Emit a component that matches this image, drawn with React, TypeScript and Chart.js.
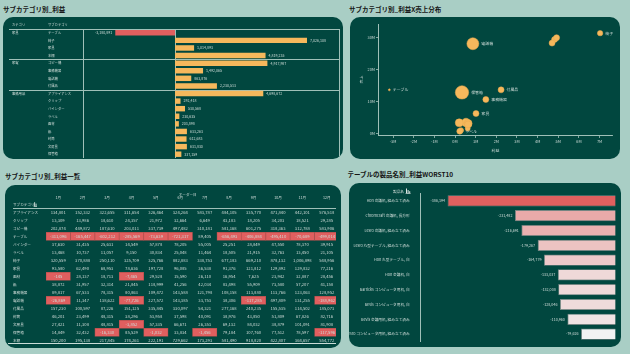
import React, { useEffect, useRef } from 'react';
import { Chart, registerables } from 'chart.js';
Chart.register(...registerables);

const FONT = '"Noto Sans CJK JP", "Noto Sans", sans-serif';
const BG = '#a9cec5';
const PANEL = '#01473f';
const ORANGE = '#f6b85c';
const RED = '#e05f5f';
const TXT = '#cfdcd8';
const LINE = '#9fc0b8';

// ---------- Panel 1 / 2 : subcategory profit & sales ----------
const subcategories = ['テーブル', '椅子', '家具', '本棚', 'コピー機', '事務機器', '電話機', '付属品', 'アプライアンス', 'クリップ', 'バインダー', 'ラベル', '画材', '紙', '封筒', '文房具', '保管箱'];
const subcategoryCategory = ['家具', '家具', '家具', '家具', '家電', '家電', '家電', '家電', '事務用品', '事務用品', '事務用品', '事務用品', '事務用品', '事務用品', '事務用品', '事務用品', '事務用品'];
const profitBySub = [-3180891, 7026108, 1014893, 4819235, 4917987, 1492065, 863876, 2230513, 4698672, 292418, 530568, 230635, 203898, 633263, 612683, 631830, 337159];
const salesBySub = [13600000, 31300000, 6200000, 29300000, 29900000, 10600000, 28000000, 13600000, 28200000, 1000000, 3400000, 700000, 3300000, 3100000, 1500000, 2800000, 12800000];
const quantityBySub = [64, 467, 576, 576, 576, 576, 2304, 576, 576, 400, 1183, 576, 1024, 1024, 400, 784, 2873];
const labelledSubs = ['椅子', '電話機', 'テーブル', '保管箱', '付属品', '事務機器', '家具', 'ラベル'];
const scatterXTicks = [-3e6, -2e6, -1e6, 0, 1e6, 2e6, 3e6, 4e6, 5e6, 6e6, 7e6];
const scatterYTicks = [0, 1e7, 2e7, 3e7];

// ---------- Panel 3 : monthly table ----------
const months = ['1月', '2月', '3月', '4月', '5月', '6月', '7月', '8月', '9月', '10月', '11月', '12月'];
const tableSubcategories = ['アプライアンス', 'クリップ', 'コピー機', 'テーブル', 'バインダー', 'ラベル', '椅子', '家具', '画材', '紙', '事務機器', '電話機', '付属品', '封筒', '文房具', '保管箱', '本棚'];
const rowAppliance = [134801, 152332, 322655, 311654, 326464, 324264, 583787, 484105, 335770, 471840, 442101, 576518];
const rowClip = [13309, 13986, 18610, 24357, 21972, 32664, 6649, 43183, 18205, 34203, 18521, 29285];
const rowCopier = [202874, 449872, 187610, 203011, 337739, 497482, 310181, 581168, 601275, 318363, 312788, 583906];
const rowTable = [-311096, -165447, -602212, -285569, -73639, -721317, 89405, -656493, -406884, -495410, -70689, -499014];
const rowBinder = [37630, 31435, 25631, 14549, 57878, 78205, 55005, 25251, 28849, 47550, 78370, 39915];
const rowLabel = [13468, 10737, 11057, 9150, 30834, 25048, 11464, 18505, 21915, 32763, 13450, 21105];
const rowChair = [320559, 370888, 250110, 325709, 325766, 882883, 338753, 677183, 669210, 878132, 1006898, 548956];
const rowFurnishing = [93580, 62490, 68953, 78636, 197728, 96085, 36538, 91376, 121812, 129892, 129832, 77216];
const rowArt = [-145, 28137, 18713, -7465, 29528, 15590, 26110, 16954, 7625, 23942, 32887, 28456];
const rowPaper = [38872, 31957, 32314, 21845, 118999, 41256, 42034, 83498, 55909, 73580, 57207, 41158];
const rowMachine = [89817, 67533, 78315, 80863, 109472, 143588, 121798, 108158, 113880, 113766, 123063, 128952];
const rowPhone = [-26869, 11347, 138622, -77726, 227572, 143385, 33753, 38306, -117285, 497809, 131255, -188962];
const rowAccessory = [157230, 100597, 87226, 151125, 335845, 330097, 54321, 277168, 240235, 155535, 114502, 185073];
const rowEnvelope = [46201, 23499, 48315, 38296, 53958, 37598, 40091, 38976, 43850, 51809, 67826, 82716];
const rowSupplies = [27421, 11308, 48815, -3852, 57335, 66671, 26353, 69132, 84032, 38879, 101091, 81908];
const rowStorage = [14849, 32432, -16330, 85529, -1032, 33834, -1456, 79184, 107760, 77512, 78597, -117596];
const rowBookcase = [150200, 195138, 217845, 174261, 222191, 729662, 173293, 581490, 918820, 422807, 364657, 554772];
const tableRows = [rowAppliance, rowClip, rowCopier, rowTable, rowBinder, rowLabel, rowChair, rowFurnishing, rowArt, rowPaper, rowMachine, rowPhone, rowAccessory, rowEnvelope, rowSupplies, rowStorage, rowBookcase];

// ---------- Panel 4 : worst 10 products ----------
const worstProducts = ['Hon 会議机, 組み立て済み', 'Chromcraft 会議机, 長方形', 'Lesro 会議机, 組み立て済み', 'Lesro 丸型テーブル, 組み立て済み', 'Hon 丸型テーブル, 白', 'Hon 会議机, 白', 'Barricks コンピュータ用机, 白', 'Bevis コンピュータ用机, 白', 'Bevis 会議用机, 組み立て済み', 'Lesro コンピュータ用机, 組み立て済み'];
const worstProfits = [-386194, -231482, -216691, -179267, -164779, -133037, -132008, -128046, -110960, -79626];

const fmt = (v: number) => v.toLocaleString('en-US');

function ChartCanvas({ width, height, make }: { width: number; height: number; make: (c: HTMLCanvasElement) => Chart }) {
  const ref = useRef<HTMLCanvasElement>(null);
  useEffect(() => {
    const chart = make(ref.current as HTMLCanvasElement);
    return () => chart.destroy();
  }, []);
  return <canvas ref={ref} width={width} height={height} style={{ position: 'absolute', left: 0, top: 0, width, height }} />;
}

const baseOpts = {
  responsive: false,
  maintainAspectRatio: false,
  animation: false as const,
  events: [] as any[],
};

function makeProfitBars(canvas: HTMLCanvasElement) {
  const linesPlugin = {
    id: 'p1lines',
    beforeDatasetsDraw(chart: any) {
      const { ctx, chartArea: a, scales: { x, y } } = chart;
      ctx.save();
      ctx.strokeStyle = LINE;
      ctx.lineWidth = 1;
      const hl = (yy: number) => { ctx.beginPath(); ctx.moveTo(6, Math.round(yy) + 0.5); ctx.lineTo(a.right, Math.round(yy) + 0.5); ctx.stroke(); };
      const vl = (xx: number) => { ctx.beginPath(); ctx.moveTo(Math.round(xx) + 0.5, a.top); ctx.lineTo(Math.round(xx) + 0.5, a.bottom); ctx.stroke(); };
      hl(a.top);
      for (let i = 1; i < subcategories.length; i++) {
        if (subcategoryCategory[i] !== subcategoryCategory[i - 1]) hl((y.getPixelForValue(i - 1) + y.getPixelForValue(i)) / 2);
      }
      vl(a.left);
      vl(x.getPixelForValue(0));
      vl(a.right);
      ctx.restore();
    },
    afterDatasetsDraw(chart: any) {
      const { ctx, scales: { y } } = chart;
      ctx.save();
      ctx.fillStyle = TXT;
      ctx.textBaseline = 'middle';
      ctx.textAlign = 'left';
      ctx.font = `3.3px ${FONT}`;
      ctx.fillText('カテゴリ', 9, 8);
      ctx.fillText('サブカテゴリ', 45, 8);
      subcategories.forEach((s, i) => {
        const yy = y.getPixelForValue(i);
        ctx.fillText(s, 45, yy);
        if (i === 0 || subcategoryCategory[i] !== subcategoryCategory[i - 1]) ctx.fillText(subcategoryCategory[i], 9, yy);
      });
      ctx.font = `3.6px ${FONT}`;
      const meta = chart.getDatasetMeta(0);
      meta.data.forEach((el: any, i: number) => {
        const v = profitBySub[i];
        if (v < 0) { ctx.textAlign = 'right'; ctx.fillText(fmt(v), el.x - 3, el.y); }
        else { ctx.textAlign = 'left'; ctx.fillText(fmt(v), el.x + 3, el.y); }
      });
      ctx.restore();
    },
  };
  return new Chart(canvas, {
    type: 'bar',
    data: {
      labels: subcategories,
      datasets: [{
        data: profitBySub,
        backgroundColor: profitBySub.map((v) => (v < 0 ? RED : ORANGE)),
        barPercentage: 0.72,
        categoryPercentage: 1,
      }],
    },
    options: {
      ...baseOpts,
      indexAxis: 'y',
      layout: { padding: { left: 80, right: 4, top: 12, bottom: 1 } },
      scales: {
        x: { display: false, min: -4.9e6, max: 8.73e6 },
        y: { display: false },
      },
      plugins: { legend: { display: false }, tooltip: { enabled: false } },
    } as any,
    plugins: [linesPlugin],
  });
}

function makeScatter(canvas: HTMLCanvasElement) {
  const labelPlugin = {
    id: 'p2labels',
    afterDatasetsDraw(chart: any) {
      const { ctx } = chart;
      ctx.save();
      ctx.fillStyle = TXT;
      ctx.font = `3.9px ${FONT}`;
      ctx.textBaseline = 'middle';
      ctx.textAlign = 'left';
      chart.getDatasetMeta(0).data.forEach((el: any, i: number) => {
        if (!labelledSubs.includes(subcategories[i])) return;
        ctx.fillText(subcategories[i], el.x + el.options.radius + 2.5, el.y);
      });
      ctx.restore();
    },
  };
  const tickFont = { size: 3.9, family: FONT };
  return new Chart(canvas, {
    type: 'bubble',
    data: {
      datasets: [{
        data: subcategories.map((_, i) => ({ x: profitBySub[i], y: salesBySub[i], r: Math.sqrt(quantityBySub[i]) / 8 })),
        backgroundColor: ORANGE,
        borderColor: '#e8a84e',
        borderWidth: 0.5,
      }],
    },
    options: {
      ...baseOpts,
      layout: { padding: { left: 8, right: 4, top: 6, bottom: 0 } },
      scales: {
        x: {
          type: 'linear', min: -3.73e6, max: 7.64e6,
          afterBuildTicks: (ax: any) => { ax.ticks = scatterXTicks.map((v) => ({ value: v })); },
          afterFit: (s: any) => { s.height = 24; },
          ticks: { color: TXT, font: tickFont, padding: 1, maxRotation: 0, autoSkip: false, callback: (v: any) => `${Math.round(v / 1e6)}M` },
          grid: { display: true, drawOnChartArea: false, drawTicks: true, tickLength: 3, color: LINE, lineWidth: 0.8 },
          border: { display: true, color: LINE, width: 1 },
          title: { display: true, text: '利益', color: TXT, font: tickFont, padding: { top: 0, bottom: 6.4 } },
        },
        y: {
          type: 'linear', min: -0.5e6, max: 34.1e6,
          afterBuildTicks: (ax: any) => { ax.ticks = scatterYTicks.map((v) => ({ value: v })); },
          afterFit: (s: any) => { s.width = 20; },
          ticks: { color: TXT, font: tickFont, padding: 1, autoSkip: false, callback: (v: any) => `${Math.round(v / 1e6)}M` },
          grid: { display: true, drawOnChartArea: false, drawTicks: true, tickLength: 2, color: LINE, lineWidth: 0.8 },
          border: { display: true, color: LINE, width: 1 },
          title: { display: true, text: '売上', color: TXT, font: tickFont, padding: { top: 1.4, bottom: 0 } },
        },
      },
      plugins: { legend: { display: false }, tooltip: { enabled: false } },
    } as any,
    plugins: [labelPlugin],
  });
}

function makeTable(canvas: HTMLCanvasElement) {
  const textPlugin = {
    id: 'p3text',
    afterDatasetsDraw(chart: any) {
      const { ctx, chartArea: a, width } = chart;
      ctx.save();
      ctx.strokeStyle = LINE;
      ctx.lineWidth = 1;
      ctx.beginPath(); ctx.moveTo(8, Math.round(a.top) + 0.5); ctx.lineTo(width, Math.round(a.top) + 0.5); ctx.stroke();
      ctx.strokeStyle = '#c9dcd7';
      ctx.beginPath(); ctx.moveTo(3, Math.round(a.bottom) - 0.5); ctx.lineTo(width, Math.round(a.bottom) - 0.5); ctx.stroke();
      ctx.fillStyle = TXT;
      ctx.textBaseline = 'middle';
      ctx.font = `3.6px ${FONT}`;
      ctx.textAlign = 'center';
      ctx.fillText('オーダー日', 182.7, 9.3);
      ctx.textAlign = 'left';
      ctx.fillText('サブカテゴリ', 8, 19.3);
      // sort icon
      ctx.fillStyle = '#dfe8e5';
      ctx.fillRect(29.2, 17.2, 0.9, 4.2);
      ctx.fillRect(30.6, 18.6, 0.9, 2.8);
      ctx.fillRect(28.6, 21.4, 3.4, 0.6);
      ctx.fillStyle = TXT;
      ctx.font = `4.2px ${FONT}`;
      ctx.textAlign = 'center';
      tableRows.forEach((row, di) => {
        const meta = chart.getDatasetMeta(di);
        meta.data.forEach((el: any, j: number) => {
          ctx.fillText(fmt(row[j]), el.x, (el.y + el.base) / 2 + 0.2);
        });
      });
      ctx.restore();
    },
  };
  return new Chart(canvas, {
    type: 'bar',
    data: {
      labels: months,
      datasets: tableRows.map((row, i) => ({
        data: months.map(() => [i - 0.5, i + 0.5]),
        backgroundColor: row.map((v) => (v < 0 ? RED : 'rgba(0,0,0,0)')),
        borderColor: row.map((v) => (v < 0 ? '#b3504e' : 'rgba(0,0,0,0)')),
        borderWidth: row.map((v) => (v < 0 ? 0.7 : 0)),
        borderSkipped: false,
        barPercentage: 1,
        categoryPercentage: 1,
        grouped: false,
      })),
    },
    options: {
      ...baseOpts,
      layout: { padding: { left: 8, right: 0, top: 0, bottom: 3.7 } },
      scales: {
        x: {
          type: 'category', position: 'top',
          afterFit: (s: any) => { s.height = 23.3; },
          ticks: { color: TXT, font: { size: 3.6, family: FONT }, padding: 1, maxRotation: 0, autoSkip: false },
          grid: { display: false },
          border: { display: false },
        },
        y: {
          type: 'linear', reverse: true, min: -0.5, max: tableSubcategories.length - 0.5,
          afterBuildTicks: (ax: any) => { ax.ticks = tableSubcategories.map((_, i) => ({ value: i })); },
          afterFit: (s: any) => { s.width = 33; },
          ticks: { color: TXT, font: { size: 3.6, family: FONT }, padding: 0, autoSkip: false, crossAlign: 'far', callback: (v: any) => tableSubcategories[v] },
          grid: { display: false },
          border: { display: false },
        },
      },
      plugins: { legend: { display: false }, tooltip: { enabled: false } },
    } as any,
    plugins: [textPlugin],
  });
}

function mix(a: number[], b: number[], t: number) {
  return `rgb(${a.map((c, k) => Math.round(c + (b[k] - c) * t)).join(',')})`;
}

function makeWorst(canvas: HTMLCanvasElement) {
  const minV = Math.min(...worstProfits);
  const maxV = Math.max(...worstProfits);
  const colors = worstProfits.map((v) => mix([242, 242, 242], [224, 96, 95], (v - maxV) / (minV - maxV)));
  const plugin = {
    id: 'p4text',
    afterDatasetsDraw(chart: any) {
      const { ctx } = chart;
      ctx.save();
      ctx.fillStyle = TXT;
      ctx.textBaseline = 'middle';
      ctx.font = `3.7px ${FONT}`;
      ctx.textAlign = 'right';
      ctx.fillText('製品名', 55, 8.7);
      ctx.fillStyle = '#dfe8e5';
      ctx.fillRect(57, 5.5, 1, 4.5);
      ctx.fillRect(58.6, 7, 1, 3);
      ctx.fillRect(60.2, 8.2, 1, 1.8);
      ctx.fillRect(56.6, 10, 5, 0.7);
      ctx.fillStyle = TXT;
      chart.getDatasetMeta(0).data.forEach((el: any, i: number) => {
        ctx.fillText(fmt(worstProfits[i]), el.x - 2.5, el.y);
      });
      ctx.restore();
    },
  };
  return new Chart(canvas, {
    type: 'bar',
    data: {
      labels: worstProducts,
      datasets: [{
        data: worstProfits,
        backgroundColor: colors,
        borderColor: 'rgba(130,140,138,0.9)',
        borderWidth: 0.8,
        barPercentage: 0.76,
        categoryPercentage: 1,
      }],
    },
    options: {
      ...baseOpts,
      indexAxis: 'y',
      layout: { padding: { left: 0, right: 5.3, top: 10.5, bottom: 5.5 } },
      scales: {
        x: { display: false, min: -448000, max: 0 },
        y: {
          type: 'category',
          afterFit: (s: any) => { s.width = 71.7; },
          ticks: { color: TXT, font: { size: 3.7, family: FONT }, padding: 3, autoSkip: false },
          grid: { display: false },
          border: { display: true, color: LINE, width: 1 },
        },
      },
      plugins: { legend: { display: false }, tooltip: { enabled: false } },
    } as any,
    plugins: [plugin],
  });
}

const titleStyle: React.CSSProperties = {
  position: 'absolute', fontFamily: FONT, fontWeight: 700, fontSize: '6.5px', lineHeight: '7px', color: '#151515', whiteSpace: 'nowrap',
};
const panelStyle = (left: number, top: number, width: number, height: number): React.CSSProperties => ({
  position: 'absolute', left, top, width, height, background: PANEL, borderRadius: 10, overflow: 'hidden',
});

export default function App() {
  return (
    <div style={{ position: 'fixed', left: 0, top: 0, width: 630, height: 354, background: BG, overflow: 'hidden' }}>
      <div style={{ ...titleStyle, left: 3, top: 5.5 }}>サブカテゴリ別_利益</div>
      <div style={{ ...titleStyle, left: 349, top: 5.5 }}>サブカテゴリ別_利益X売上分布</div>
      <div style={{ ...titleStyle, left: 5, top: 172.5 }}>サブカテゴリ別_利益一覧</div>
      <div style={{ ...titleStyle, left: 347.5, top: 171 }}>テーブルの製品名別_利益WORST10</div>

      <div style={panelStyle(3, 17, 340, 142)}>
        <ChartCanvas width={340} height={142} make={makeProfitBars} />
      </div>
      <div style={panelStyle(350, 17, 270, 142)}>
        <ChartCanvas width={270} height={142} make={makeScatter} />
      </div>
      <div style={panelStyle(5, 185, 336, 163)}>
        <div style={{ position: 'absolute', left: 0, top: 0, width: 331, height: 163, overflow: 'hidden' }}>
          <ChartCanvas width={334} height={163} make={makeTable} />
        </div>
      </div>
      <div style={panelStyle(349, 183, 272, 164)}>
        <ChartCanvas width={272} height={164} make={makeWorst} />
      </div>
    </div>
  );
}
